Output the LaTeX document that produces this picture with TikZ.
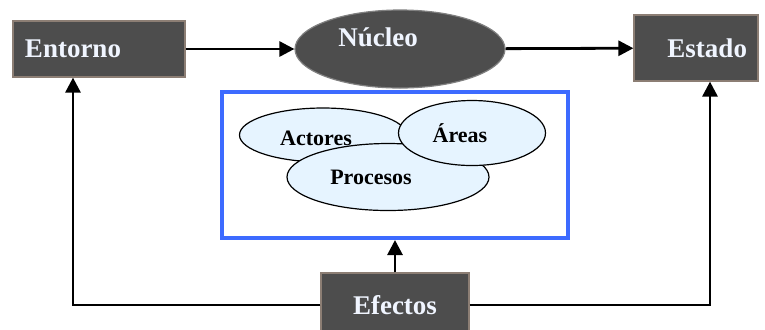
\documentclass[tikz,border=0pt]{standalone}
\usepackage{fontspec}
\setmainfont{Liberation Serif}
\usepackage{tikz}
\usetikzlibrary{positioning, arrows.meta, shapes}
\definecolor{caja}{HTML}{4D4D4D}
\definecolor{borde}{HTML}{8C7E74}
\definecolor{letra}{HTML}{F0F5FF}
\definecolor{azul}{HTML}{3D6BFF}
\definecolor{celeste}{HTML}{E6F4FF}
\tikzset{
	bloque/.style={draw=borde, line width=0.6pt, fill=caja, text=letra,
		font=\fontsize{13.5}{16}\selectfont\bfseries},
	burbuja/.style={draw, ellipse, line width=0.6pt, fill=celeste, inner sep=0pt},
	rotulo/.style={font=\fontsize{11}{13}\selectfont\bfseries},
	flecha/.style={line width=1.4pt, -{Triangle[length=7.5pt, width=7.5pt]}}
}

\begin{document}
\begin{tikzpicture}[x=0.5pt, y=-0.5pt]
		\useasboundingbox (0,0) rectangle (765,329);
		\clip (0,0) rectangle (765,329);
		\node[bloque, minimum width=86pt, minimum height=28pt, inner xsep=6pt,
			text width=74pt, align=left] (entorno) at (99,49) {Entorno};
		\node[bloque, ellipse, draw=gray, inner sep=0pt, minimum width=105pt, minimum height=39pt,
			label={[text=letra, font=\fontsize{13.5}{16}\selectfont\bfseries, xshift=-11pt, yshift=6pt]center:Núcleo}]
			(nucleo) at (400,49) {};
		\node[bloque, minimum width=62pt, minimum height=33pt, inner xsep=5.5pt,
			text width=51pt, align=right] (estado) at (696,48) {Estado};
		\node[bloque, minimum width=74pt, minimum height=32pt] (efectos) at (395,305) {Efectos};
		
		% recuadro con los componentes
		\node[draw=azul, line width=2pt, minimum width=173pt, minimum height=73pt] (marco) at (395,165) {};
		\node[burbuja, minimum width=83.5pt, minimum height=27pt,
			label={[rotulo, xshift=-3.5pt, yshift=-1.5pt]center:Actores}] (actores) at (323,135) {};
		\node[burbuja, minimum width=101pt, minimum height=33.5pt,
			label={[rotulo, xshift=-8.5pt]center:Procesos}] (procesos) at (388,177) {};
		\node[burbuja, minimum width=73.5pt, minimum height=32.5pt,
			label={[rotulo, xshift=-6pt]center:Áreas}] (areas) at (472,133) {};
		
		\coordinate (izq) at (73,305);
		\coordinate (der) at (710,305);
		\draw[flecha] (entorno) -- (nucleo);
		\draw[flecha] (nucleo) -- (estado);
		\draw[flecha] (efectos) -- (marco);
		\draw[flecha] (efectos.west) -- (izq) -- (izq |- entorno.south);
		\draw[flecha] (efectos.east) -- (der) -- (der |- estado.south);
	\end{tikzpicture}
\end{document}
